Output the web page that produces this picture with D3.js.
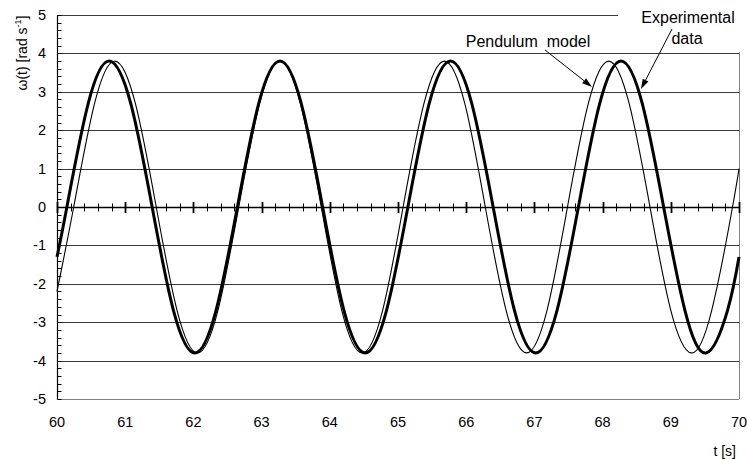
<!DOCTYPE html>
<html>
<head>
<meta charset="utf-8">
<script src="https://cdn.jsdelivr.net/npm/d3@7"></script>
<style>
  html, body { margin: 0; padding: 0; background: #fff; }
  svg { display: block; }
  text { font-family: "Liberation Sans", Arial, sans-serif; fill: #000; }
</style>
</head>
<body>
<svg id="chart" width="747" height="459"></svg>
<script>
// ---- data ----
const xTickLabels = [60, 61, 62, 63, 64, 65, 66, 67, 68, 69, 70];
const yTickLabels = [-5, -4, -3, -2, -1, 0, 1, 2, 3, 4, 5];

// Experimental data (thick curve)
const expT = [60, 60.145, 60.457, 60.77, 61.082, 61.395, 61.707, 62.02, 62.332, 62.645, 62.957, 63.27, 63.582, 63.895, 64.207, 64.52, 64.832, 65.145, 65.457, 65.77, 66.082, 66.395, 66.707, 67.02, 67.332, 67.645, 67.957, 68.27, 68.582, 68.895, 69.207, 69.52, 69.832, 70];
const expW = [-1.3, 0, 2.69, 3.8, 2.69, 0, -2.69, -3.8, -2.69, 0, 2.69, 3.8, 2.69, 0, -2.69, -3.8, -2.69, 0, 2.69, 3.8, 2.69, 0, -2.69, -3.8, -2.69, 0, 2.69, 3.8, 2.69, 0, -2.69, -3.8, -2.69, -1.3];

// Pendulum model (thin curve)
const modT = [60, 60.245, 60.55, 60.85, 61.15, 61.455, 61.76, 62.06, 62.36, 62.665, 62.97, 63.27, 63.57, 63.875, 64.175, 64.475, 64.775, 65.075, 65.38, 65.68, 65.98, 66.28, 66.585, 66.885, 67.185, 67.485, 67.79, 68.09, 68.39, 68.695, 69.0, 69.3, 69.6, 69.905, 70];
const modW = [-2.2, 0, 2.69, 3.8, 2.69, 0, -2.69, -3.8, -2.69, 0, 2.69, 3.8, 2.69, 0, -2.69, -3.8, -2.69, 0, 2.69, 3.8, 2.69, 0, -2.69, -3.8, -2.69, 0, 2.69, 3.8, 2.69, 0, -2.69, -3.8, -2.69, 0, 1.0];

const seriesNames = ["Experimental", "data", "Pendulum  model"];

// ---- layout ----
const svg = d3.select("#chart");
const x = d3.scaleLinear().domain([60, 70]).range([57, 739]);
const y = d3.scaleLinear().domain([-5, 5]).range([399, 15]);

const g = svg.append("g");

// horizontal gridlines
g.selectAll("line.grid")
  .data(yTickLabels.filter(v => v !== 0 && v !== -5))
  .enter().append("line")
  .attr("x1", x(60)).attr("x2", x(70))
  .attr("y1", d => Math.round(y(d)) + 0.5).attr("y2", d => Math.round(y(d)) + 0.5)
  .attr("stroke", "#3a3a3a").attr("stroke-width", 1);

// bottom border (-5) and right border
g.append("line")
  .attr("x1", x(60)).attr("x2", x(70))
  .attr("y1", Math.round(y(-5)) + 0.5).attr("y2", Math.round(y(-5)) + 0.5)
  .attr("stroke", "#808080").attr("stroke-width", 1);
g.append("line")
  .attr("x1", Math.round(x(70)) + 0.5).attr("x2", Math.round(x(70)) + 0.5)
  .attr("y1", y(5)).attr("y2", y(-5))
  .attr("stroke", "#808080").attr("stroke-width", 1);

// left axis line
const lx = Math.round(x(60)) + 0.5;
g.append("line")
  .attr("x1", lx).attr("x2", lx)
  .attr("y1", y(5)).attr("y2", y(-5) + 0.5)
  .attr("stroke", "#000").attr("stroke-width", 1.2);

// left axis minor ticks (inside)
const yMinor = d3.range(-5, 5.0001, 0.2).map(v => +v.toFixed(1));
g.selectAll("line.ytick")
  .data(yMinor)
  .enter().append("line")
  .attr("x1", lx).attr("x2", lx + 4)
  .attr("y1", d => Math.round(y(d)) + 0.5).attr("y2", d => Math.round(y(d)) + 0.5)
  .attr("stroke", "#000").attr("stroke-width", 1);

// y tick labels
g.selectAll("text.ylab")
  .data(yTickLabels)
  .enter().append("text")
  .attr("x", 46).attr("y", d => y(d) + 5)
  .attr("text-anchor", "end")
  .attr("font-size", 14.5)
  .text(d => d);

// x axis line at 0
const y0 = Math.round(y(0)) + 0.5;
g.append("line")
  .attr("x1", x(60)).attr("x2", x(70))
  .attr("y1", y0).attr("y2", y0)
  .attr("stroke", "#000").attr("stroke-width", 1.5);

// x minor ticks every 0.2
const xMinor = d3.range(60, 70.0001, 0.2).map(v => +v.toFixed(1));
g.selectAll("line.xminor")
  .data(xMinor.filter(v => Math.abs(v - Math.round(v)) > 1e-6))
  .enter().append("line")
  .attr("x1", d => Math.round(x(d)) + 0.5).attr("x2", d => Math.round(x(d)) + 0.5)
  .attr("y1", y0 - 4).attr("y2", y0 + 4)
  .attr("stroke", "#000").attr("stroke-width", 1);
g.selectAll("line.xmajor")
  .data(xTickLabels)
  .enter().append("line")
  .attr("x1", d => Math.round(x(d)) + 0.5).attr("x2", d => Math.round(x(d)) + 0.5)
  .attr("y1", y0 - 5.5).attr("y2", y0 + 5.5)
  .attr("stroke", "#000").attr("stroke-width", 1.8);

// x tick labels
g.selectAll("text.xlab")
  .data(xTickLabels)
  .enter().append("text")
  .attr("x", d => x(d)).attr("y", 427)
  .attr("text-anchor", "middle")
  .attr("font-size", 14.5)
  .text(d => d);

// curves
const line = (T, W) => d3.line()
  .x(i => x(T[i])).y(i => y(W[i]))
  .curve(d3.curveNatural)(d3.range(T.length));

g.append("path")
  .attr("d", line(modT, modW))
  .attr("fill", "none").attr("stroke", "#000").attr("stroke-width", 1.1);

g.append("path")
  .attr("d", line(expT, expW))
  .attr("fill", "none").attr("stroke", "#000").attr("stroke-width", 3)
  .attr("stroke-linejoin", "round");

// label box covering top-right
g.append("rect")
  .attr("x", 618).attr("y", 0).attr("width", 129).attr("height", Math.round(y(4)) - 1)
  .attr("fill", "#fff");

// annotations
g.append("text").attr("x", 688).attr("y", 23).attr("text-anchor", "middle")
  .attr("font-size", 16).text(seriesNames[0]);
g.append("text").attr("x", 687).attr("y", 44).attr("text-anchor", "middle")
  .attr("font-size", 16).text(seriesNames[1]);
g.append("text").attr("x", 528).attr("y", 47).attr("text-anchor", "middle")
  .attr("font-size", 16).attr("xml:space", "preserve").style("white-space", "pre").text(seriesNames[2]);

function arrow(x1, y1, x2, y2) {
  const ang = Math.atan2(y2 - y1, x2 - x1);
  const L = 10, W = 3.2;
  const bx = x2 - L * Math.cos(ang), by = y2 - L * Math.sin(ang);
  g.append("line").attr("x1", x1).attr("y1", y1).attr("x2", bx).attr("y2", by)
    .attr("stroke", "#000").attr("stroke-width", 1);
  const px = -Math.sin(ang) * W, py = Math.cos(ang) * W;
  g.append("path")
    .attr("d", `M${x2},${y2}L${bx + px},${by + py}L${bx - px},${by - py}Z`)
    .attr("fill", "#000");
}
arrow(545, 50, 592, 87);
arrow(672, 29, 641, 89);

// axis titles
const yt = g.append("text")
  .attr("transform", "translate(27,53) rotate(-90)")
  .attr("text-anchor", "middle")
  .attr("font-size", 14);
yt.append("tspan").text("ω(t) [rad s");
yt.append("tspan").attr("font-size", 9).attr("dy", -6).text("-1");
yt.append("tspan").attr("dy", 6).text("]");

g.append("text").attr("x", 736).attr("y", 456).attr("text-anchor", "end")
  .attr("font-size", 14).text("t [s]");
</script>
</body>
</html>
